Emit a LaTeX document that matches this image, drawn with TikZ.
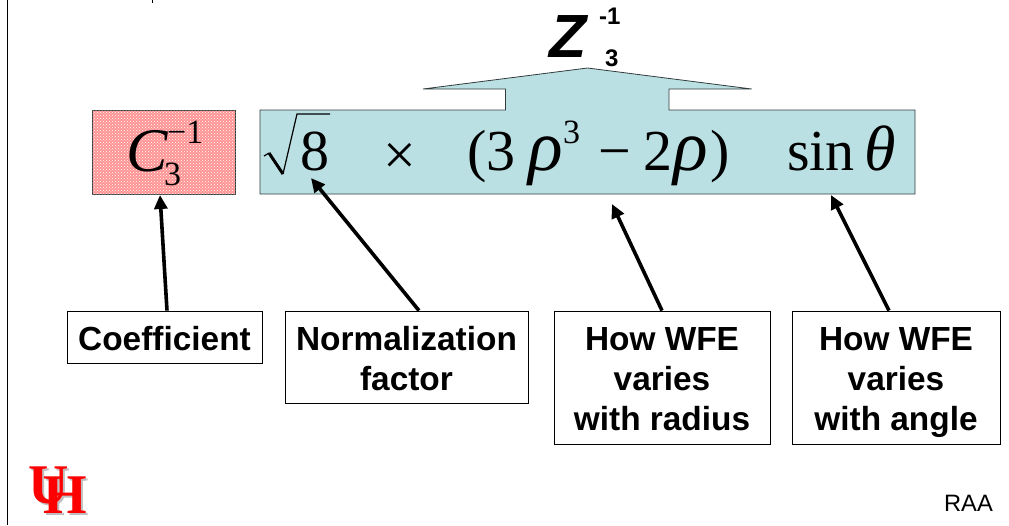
\documentclass[tikz,border=0pt]{standalone}
\usepackage{fontspec}
\setmainfont{Liberation Serif}
\setsansfont{Liberation Sans}
\usepackage{tikz}
\usetikzlibrary{arrows.meta, positioning, patterns}

\definecolor{boxblue}{RGB}{187,224,227}
\definecolor{boxline}{RGB}{50,60,60}
\definecolor{uhred}{RGB}{255,0,0}

\newcommand{\bigterm}{\fontsize{58}{58}\selectfont}
\newcommand{\smallterm}{\fontsize{34}{34}\selectfont}
\newcommand{\widegreek}{\fontsize{72}{58}\selectfont\itshape}
\newcommand{\ls}{\rule[-7pt]{0pt}{40pt}}

\begin{document}
\begin{tikzpicture}[
      x=1pt, y=-1pt,
      labelbox/.style={draw=black, line width=0.8pt, fill=white, align=center, inner sep=0pt,
        font=\sffamily\bfseries\fontsize{33.4}{40}\selectfont},
      term/.style={inner sep=0pt, anchor=base west, font=\bigterm},
      pointer/.style={line width=3.6pt, -{Triangle[length=14pt,width=13pt]}},
      logo/.style={inner sep=0pt, anchor=base west, font=\bfseries\fontsize{56}{56}\selectfont}
    ]
      \useasboundingbox (0,0) rectangle (1009,525);

      \draw[line width=1.2pt] (7.5,0) -- (7.5,525);
      \draw[line width=1.2pt] (152.5,0) -- (152.5,2.5);

      \node[draw=boxline, line width=0.8pt, fill=red!42, minimum width=143pt, minimum height=84pt,
        inner sep=0pt] (coefbox) at (163.5,152) {};
      \fill[pattern=crosshatch dots, pattern color=white] (coefbox.south west) rectangle (coefbox.north east);

      \draw[draw=boxline, line width=0.8pt, fill=boxblue]
        (260,110) -- (505.5,110) -- (505.5,89) -- (423,89) -- (587.5,68) -- (751.7,89)
        -- (669,89) -- (669,110) -- (915,110) -- (915,194) -- (260,194) -- cycle;

      \node[term] (coefterm) at (126,171) {\fontsize{62}{62}\selectfont\textit{C}\rlap{\smallterm\raisebox{28pt}{\hspace{-1pt}−1}}\hspace{-4pt}\raisebox{-14pt}{\smallterm 3}};

      \draw[line width=1.2pt] (264,156) -- (269,153);
      \draw[line width=3pt] (269,153) -- (283,174);
      \draw[line width=1.2pt] (283,174) -- (297,114) -- (330,114);
      \node[term] (rootterm) at (300,170) {8};
      \node[term] (timesterm) at (383,174) {×};
      \node[term] (radialterm) at (467,170) {(3\hspace{13pt}{\widegreek ρ}\raisebox{27pt}{\smallterm 3}\hspace{18pt}−\hspace{13pt}2\hspace{1pt}{\widegreek ρ}\hspace{2pt})};
      \node[term] (angleterm) at (787,170) {sin\,{\fontsize{64}{58}\selectfont\itshape θ}};

      \node[inner sep=0pt, anchor=base west, font=\sffamily\bfseries\itshape\fontsize{61}{61}\selectfont] (zed) at (549,57) {Z};
      \node[inner sep=0pt, anchor=base west, font=\sffamily\bfseries\fontsize{24}{24}\selectfont] (zedsup) at (599,24) {-1};
      \node[inner sep=0pt, anchor=base west, font=\sffamily\bfseries\fontsize{24}{24}\selectfont] (zedsub) at (605,66) {3};

      \node[labelbox, minimum width=195pt, minimum height=52pt] (coeflabel) at (164.5,337) {\ls Coefficient};
      \node[labelbox, minimum width=243pt, minimum height=92pt] (normlabel) at (406.5,357) {\ls Normalization\\\ls factor};
      \node[labelbox, minimum width=216pt, minimum height=133pt] (radlabel) at (662,377.5) {\ls How WFE\\\ls varies\\\ls with radius};
      \node[labelbox, minimum width=208pt, minimum height=133pt] (anglabel) at (896,377.5) {\ls How WFE\\\ls varies\\\ls with angle};

      \coordinate (coeftip) at (160,195);
      \coordinate (roottip) at (311,178);
      \coordinate (radtip) at (612,204);
      \coordinate (angtip) at (831,195);

      \draw[pointer] (coeflabel.north -| 167,0) -- (coeftip);
      \draw[pointer] (normlabel.north -| 419,0) -- (roottip);
      \draw[pointer] (radlabel.north) -- (radtip);
      \draw[pointer] (anglabel.north -| 889,0) -- (angtip);

      \node[logo, text=black!25] (ushadow) at (30,505) {U};
      \node[logo, text=black!25] (hshadow) at (45,515) {H};
      \node[logo, text=uhred] (ulogo) at (28,503) {U};
      \node[logo, text=uhred] (hlogo) at (43,513) {H};

      \node[inner sep=0pt, anchor=base east, font=\sffamily\fontsize{23.7}{24}\selectfont] (author) at (993,511) {RAA};
    \end{tikzpicture}
\end{document}
